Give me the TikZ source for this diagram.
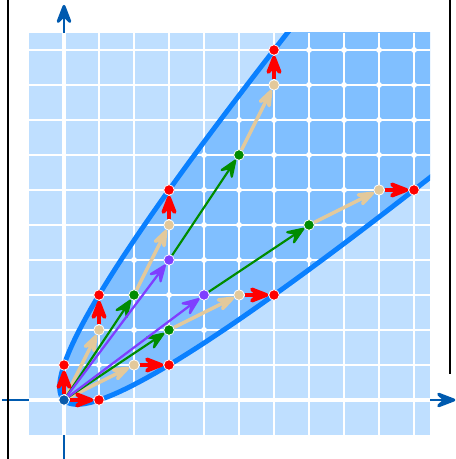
\documentclass[tikz,border=0pt]{standalone}
\usetikzlibrary{arrows.meta}
\definecolor{bglight}{RGB}{191,223,255}
\definecolor{bgdark}{RGB}{128,191,255}
\definecolor{curveblue}{RGB}{10,128,255}
\definecolor{axisblue}{RGB}{0,90,175}
\definecolor{beigeA}{RGB}{227,201,155}
\definecolor{greenA}{RGB}{0,140,0}
\definecolor{purpA}{RGB}{127,63,255}
\definecolor{originA}{RGB}{10,90,170}
\pgfdeclarelayer{bg}
\pgfdeclarelayer{mid}
\pgfsetlayers{bg,mid,main}
\begin{document}
\begin{tikzpicture}[x=1cm,y=1cm,
  dot/.style={circle, fill=#1, draw=white, line width=0.6pt, inner sep=0pt, minimum size=0.3cm},
  redarr/.style={draw=red, line width=3pt, -{Stealth[length=0.8cm,width=0.62cm,inset=0.34cm,round]}},
  arr/.style={draw=#1, line width=2.8pt, -{Stealth[length=0.74cm,width=0.54cm,inset=0.3cm,round]}},
  thinarr/.style={draw=#1, line width=1.8pt, -{Stealth[length=0.66cm,width=0.52cm,inset=0.27cm,round]}},
  gridline/.style={white, line width=1.6pt},
  axisline/.style={white, line width=3.2pt},
  axisarrow/.style={axisblue, line width=2.4pt, -{Stealth[length=0.72cm,width=0.55cm,inset=0.28cm,round]}},
  boundary/.style={curveblue, line width=4pt}
]
\useasboundingbox (-1.8286,-1.6857) rectangle (11.2,11.4286);

% colored points (nodes)
\node[dot=originA] (o) at (0,0) {};
\foreach \a/\b in {0/1,1/0,1/3,3/1,3/6,6/3,6/10,10/6} {\node[dot=red] (p\a-\b) at (\a,\b) {};}
\foreach \a/\b in {1/2,2/1,3/5,5/3,6/9,9/6} {\node[dot=beigeA] (p\a-\b) at (\a,\b) {};}
\foreach \a/\b in {2/3,3/2,5/7,7/5} {\node[dot=greenA] (p\a-\b) at (\a,\b) {};}
\foreach \a/\b in {3/4,4/3} {\node[dot=purpA] (p\a-\b) at (\a,\b) {};}

\begin{pgfonlayer}{bg}
  % axes
  \coordinate (xs) at (-1.77,0);
  \coordinate (xe) at (11.18,0);
  \coordinate (ys) at (0,-1.6857);
  \coordinate (ye) at (0,11.29);
  \draw[axisarrow] (xs) -- (xe);
  \draw[axisarrow] (ys) -- (ye);
  % side bars
  \draw[black, line width=1.6pt] (-1.6,-1.6857) -- (-1.6,11.4286);
  \draw[black, line width=1.6pt] (11.03,11.4286) -- (11.03,0.743);
  % background
  \fill[bglight] (-1,-1) rectangle (10.46,10.49);
  \begin{scope}
    \clip (-1,-1) rectangle (10.46,10.49);
    \fill[bgdark] plot[domain=0:4.4, samples=80] ({\x*(\x-1)/2},{\x*(\x+1)/2})
      -- (11.88,11.88) -- plot[domain=4.4:0, samples=80] ({\x*(\x+1)/2},{\x*(\x-1)/2}) -- cycle;
  \end{scope}
  % grid
  \foreach \k in {1,...,10} {
    \draw[gridline] (\k,-1) -- (\k,10.49);
    \draw[gridline] (-1,\k) -- (10.46,\k);
  }
  \draw[axisline] (0,-1) -- (0,10.49);
  \draw[axisline] (-1,0) -- (10.46,0);
  % white lattice dots inside the cone
  \foreach \a in {0,...,10} {
    \foreach \b in {0,...,10} {
      \pgfmathtruncatemacro{\inside}{((\a-\b)*(\a-\b) < \a+\b) ? 1 : 0}
      \ifnum\inside=1 \fill[white] (\a,\b) circle (0.085); \fi
    }
  }
  % boundary curves
  \begin{scope}
    \clip (-1,-1) rectangle (10.46,10.49);
    \draw[boundary] plot[domain=0:4.4, samples=80] ({\x*(\x-1)/2},{\x*(\x+1)/2});
    \draw[boundary] plot[domain=0:4.4, samples=80] ({\x*(\x+1)/2},{\x*(\x-1)/2});
  \end{scope}
\end{pgfonlayer}

\begin{pgfonlayer}{mid}
  % beige
  \draw[arr=beigeA] (o) -- (p1-2);
  \draw[arr=beigeA] (o) -- (p2-1);
  \draw[arr=beigeA] (p2-3) -- (p3-5);
  \draw[arr=beigeA] (p3-2) -- (p5-3);
  \draw[arr=beigeA] (p5-7) -- (p6-9);
  \draw[arr=beigeA] (p7-5) -- (p9-6);
  % green
  \draw[thinarr=greenA] (o) -- (p2-3);
  \draw[thinarr=greenA] (o) -- (p3-2);
  \draw[thinarr=greenA] (p3-4) -- (p5-7);
  \draw[thinarr=greenA] (p4-3) -- (p7-5);
  % purple
  \draw[thinarr=purpA] (o) -- (p3-4);
  \draw[thinarr=purpA] (o) -- (p4-3);
  % red
  \draw[redarr] (o) -- (p0-1);
  \draw[redarr] (o) -- (p1-0);
  \draw[redarr] (p1-2) -- (p1-3);
  \draw[redarr] (p2-1) -- (p3-1);
  \draw[redarr] (p3-5) -- (p3-6);
  \draw[redarr] (p5-3) -- (p6-3);
  \draw[redarr] (p6-9) -- (p6-10);
  \draw[redarr] (p9-6) -- (p10-6);
\end{pgfonlayer}
\end{tikzpicture}
\end{document}
